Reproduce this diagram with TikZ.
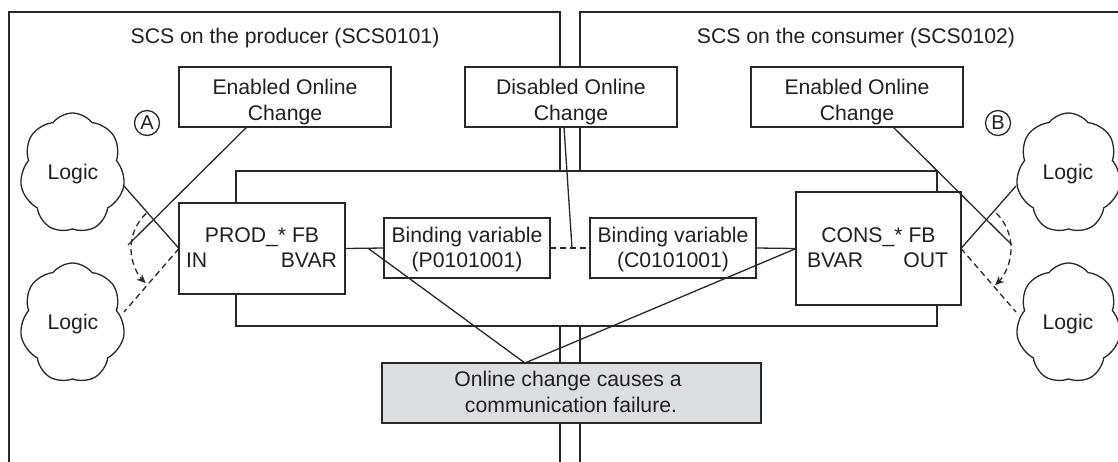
\documentclass[tikz,border=0pt]{standalone}
\usepackage{fontspec}
\setmainfont{Liberation Sans}
\usetikzlibrary{shapes.symbols,arrows.meta,calc}
\definecolor{ln}{RGB}{40,40,40}
\definecolor{tx}{RGB}{35,31,32}
\definecolor{gfill}{RGB}{221,222,224}
\begin{document}
\begin{tikzpicture}[x=1pt,y=-1pt,
  every node/.style={inner sep=0pt, outer sep=0pt},
  frame/.style={draw=ln, line width=1.3pt},
  box/.style={draw=ln, line width=1.3pt, fill=white},
  lbl/.style={anchor=base, text=tx, font=\fontsize{21.2}{25}\selectfont},
  conn/.style={draw=ln, line width=1.3pt},
  dconn/.style={conn, dash pattern=on 6pt off 4pt},
  logic/.style={cloud, cloud puffs=7, cloud puff arc=105, aspect=0.875, draw=ln, line width=1.3pt, minimum width=105pt, minimum height=120pt, fill=white},
  letterc/.style={circle, draw=ln, line width=1.3pt, minimum size=25pt, text=tx, font=\fontsize{20}{22}\selectfont}
]
\useasboundingbox (0,0) rectangle (1118,461);
\clip (0,0) rectangle (1118,461);
\fill[white] (0,0) rectangle (1118,461);

% panels
\node[frame, minimum width=551pt, minimum height=470pt] (panL) at (284.5,247) {};
\node[frame, minimum width=550pt, minimum height=470pt] (panR) at (855,247) {};
\node[lbl] (tL) at (285,43) {SCS on the producer (SCS0101)};
\node[lbl] (tR) at (856,43) {SCS on the consumer (SCS0102)};

% central band
\node[box, minimum width=701pt, minimum height=155pt] (band) at (586.5,248.5) {};

% top boxes
\node[box, minimum width=212pt, minimum height=60pt] (enL) at (285,97) {};
\node[lbl] (enLa) at (285,94) {Enabled Online};
\node[lbl] (enLb) at (285,120) {Change};
\node[box, minimum width=212pt, minimum height=60pt] (dis) at (571,97) {};
\node[lbl] (disa) at (571,94) {Disabled Online};
\node[lbl] (disb) at (571,120) {Change};
\node[box, minimum width=212pt, minimum height=60pt] (enR) at (857,97) {};
\node[lbl] (enRa) at (857,94) {Enabled Online};
\node[lbl] (enRb) at (857,120) {Change};

\node[letterc] (cA) at (147,123) {A};
\node[letterc] (cB) at (998,123) {B};

% function blocks
\node[box, minimum width=166pt, minimum height=91pt] (prod) at (262,248.5) {};
\node[lbl] (prodt) at (262,242) {PROD\_* FB};
\node[lbl, anchor=base west] (prodin) at (186,267) {IN};
\node[lbl, anchor=base east] (prodbv) at (337,267) {BVAR};

\node[box, minimum width=166pt, minimum height=60pt] (bindP) at (467,248) {};
\node[lbl] (bindPa) at (467,242) {Binding variable};
\node[lbl] (bindPb) at (467,267) {(P0101001)};
\node[box, minimum width=166pt, minimum height=60pt] (bindC) at (673,248) {};
\node[lbl] (bindCa) at (673,242) {Binding variable};
\node[lbl] (bindCb) at (673,267) {(C0101001)};

\node[box, minimum width=165pt, minimum height=113pt] (cons) at (878.5,248.5) {};
\node[lbl] (const) at (878.5,242) {CONS\_* FB};
\node[lbl, anchor=base west] (consbv) at (807,267) {BVAR};
\node[lbl, anchor=base east] (consout) at (948,267) {OUT};

% failure box
\node[box, fill=gfill, minimum width=379pt, minimum height=60pt] (fail) at (571.5,393) {};
\node[lbl] (faila) at (568,386) {Online change causes a};
\node[lbl] (failb) at (571,412) {communication failure.};

% clouds
\node[logic] (cl1) at (72.5,173) {};
\node[lbl] (cl1t) at (73,179) {Logic};
\node[logic] (cl2) at (72.5,323) {};
\node[lbl] (cl2t) at (73,329) {Logic};
\node[logic] (cl3) at (1068.5,173) {};
\node[lbl] (cl3t) at (1068,179) {Logic};
\node[logic] (cl4) at (1068.5,323) {};
\node[lbl] (cl4t) at (1068,329) {Logic};

% connection points on cloud borders / arcs
\coordinate (cl1p) at (124,186);
\coordinate (cl2p) at (124,312);
\coordinate (cl3p) at (1016,186);
\coordinate (cl4p) at (1016,312);
\coordinate (arcL) at (128,245);
\coordinate (arcR) at (1012,245);

% data flow connectors
\draw[conn] (prod.east) -- (bindP.west);
\draw[dconn] (bindP.east) -- (bindC.west);
\draw[conn] (bindC.east) -- (cons.west);

\draw[conn] (cl1p) -- (prod.west);
\draw[dconn] (prod.west) -- (cl2p);
\draw[conn] (cons.east) -- (cl3p);
\draw[dconn] (cons.east) -- (cl4p);

\draw[dconn, -{Stealth[length=9pt,width=8pt]}] ($(prod.west)+(227:48)$) arc[start angle=227, end angle=134, radius=48];
\draw[dconn, -{Stealth[length=9pt,width=8pt]}] ($(cons.east)+(-45:50)$) arc[start angle=-45, end angle=47, radius=50];

% callout lines
\draw[conn] ($(enL.south west)!0.32!(enL.south east)$) -- (arcL);
\draw[conn] ($(enR.south west)!0.67!(enR.south east)$) -- (arcR);
\draw[conn] ($(dis.south west)!0.467!(dis.south east)$) -- ($(bindP.east)!0.55!(bindC.west)$);
\draw[conn] ($(fail.north west)!0.377!(fail.north east)$) -- ($(prod.east)!0.59!(bindP.west)$);
\draw[conn] ($(fail.north west)!0.377!(fail.north east)$) -- (cons.west);
\end{tikzpicture}
\end{document}
